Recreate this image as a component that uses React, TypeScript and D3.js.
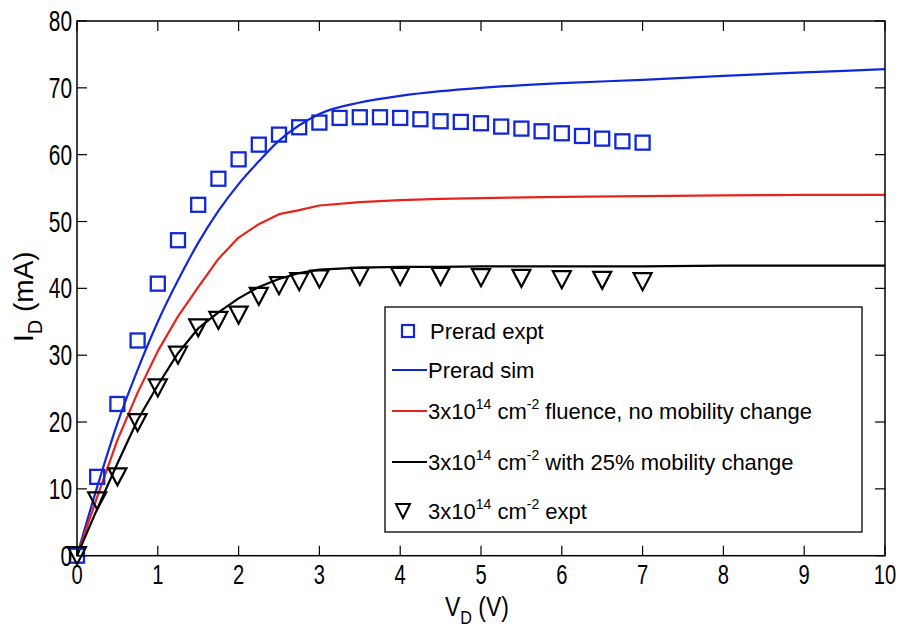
import React from "react";
import * as d3 from "d3";

const xTicks = [0, 1, 2, 3, 4, 5, 6, 7, 8, 9, 10];
const yTicks = [0, 10, 20, 30, 40, 50, 60, 70, 80];

const preradExptV = [0, 0.25, 0.5, 0.75, 1, 1.25, 1.5, 1.75, 2, 2.25, 2.5, 2.75, 3, 3.25, 3.5, 3.75, 4, 4.25, 4.5, 4.75, 5, 5.25, 5.5, 5.75, 6, 6.25, 6.5, 6.75, 7];
const preradExptI = [0, 11.8, 22.7, 32.2, 40.7, 47.2, 52.5, 56.4, 59.3, 61.5, 63.0, 64.1, 64.8, 65.5, 65.6, 65.6, 65.5, 65.3, 65.0, 64.9, 64.7, 64.2, 63.9, 63.5, 63.2, 62.8, 62.4, 62.0, 61.8];

const fluenceExptV = [0, 0.25, 0.5, 0.75, 1, 1.25, 1.5, 1.75, 2, 2.25, 2.5, 2.75, 3, 3.5, 4, 4.5, 5, 5.5, 6, 6.5, 7];
const fluenceExptI = [0, 8.2, 11.8, 19.9, 25.1, 30.0, 34.1, 35.2, 36.0, 38.8, 40.4, 41.0, 41.4, 41.8, 41.8, 41.8, 41.6, 41.5, 41.3, 41.2, 41.0];

const simV = [0, 0.25, 0.5, 0.75, 1, 1.25, 1.5, 1.75, 2, 2.25, 2.5, 2.75, 3, 3.5, 4, 4.5, 5, 6, 7, 8, 9, 10];
const preradSimI = [0, 10.3, 19.8, 27.8, 35.0, 41.2, 46.8, 51.6, 55.6, 59.0, 62.1, 64.4, 66.1, 67.8, 68.8, 69.5, 70.0, 70.7, 71.2, 71.8, 72.3, 72.8];
const noMobilityI = [0, 8.8, 17.3, 24.4, 30.6, 35.8, 40.2, 44.4, 47.6, 49.6, 51.1, 51.7, 52.4, 52.9, 53.2, 53.4, 53.5, 53.7, 53.8, 53.9, 54.0, 54.0];
const mobilityI = [0, 7.0, 13.8, 20.3, 25.5, 30.3, 34.0, 36.4, 38.5, 40.2, 41.4, 42.3, 42.8, 43.1, 43.2, 43.2, 43.3, 43.3, 43.3, 43.4, 43.4, 43.4];

const BLUE = "#1028d8";
const RED = "#e8231c";
const BLACK = "#000";

const L = 77, R = 885, T = 21, B = 555.7;

export default function App() {
  const x = d3.scaleLinear().domain([0, 10]).range([L, R]);
  const y = d3.scaleLinear().domain([0, 80]).range([B, T]);
  const smooth = d3.line<[number, number]>().x(d => x(d[0])).y(d => y(d[1])).curve(d3.curveMonotoneX);
  const straight = d3.line<[number, number]>().x(d => x(d[0])).y(d => y(d[1]));
  const pts = (vs: number[], is: number[]) => vs.map((v, i) => [v, is[i]] as [number, number]);

  const sq = 14;
  const triPath = (cx: number, cy: number) => {
    const w = 9, h = 8.5;
    return `M${cx - w},${cy - h}L${cx + w},${cy - h}L${cx},${cy + h}Z`;
  };

  const font = "'Liberation Sans', Arial, Helvetica, sans-serif";
  const legX = 385, legY = 307, legW = 477, legH = 225;
  const base = [339, 378, 419, 470, 519];
  const mid = base.map(b => b - 8);
  const textX = 428;

  const supRow = (tail: string) => [
    <tspan key="a">3x10</tspan>,
    <tspan key="b" fontSize={14} dy={-10}>14</tspan>,
    <tspan key="c" dy={10}> cm</tspan>,
    <tspan key="d" fontSize={14} dy={-10}>-2</tspan>,
    <tspan key="e" dy={10}>{tail}</tspan>,
  ];

  return (
    <svg width={899} height={634} style={{ position: "absolute", left: 0, top: 0, background: "#fff" }} fontFamily={font}>
      <rect x={0} y={0} width={899} height={634} fill="#fff" />
      {/* series lines */}
      <path d={smooth(pts(simV, preradSimI)) || ""} fill="none" stroke={BLUE} strokeWidth={2.2} />
      <path d={straight(pts(simV, noMobilityI)) || ""} fill="none" stroke={RED} strokeWidth={2.2} strokeLinejoin="round" />
      <path d={straight(pts(simV, mobilityI)) || ""} fill="none" stroke={BLACK} strokeWidth={2.2} strokeLinejoin="round" />
      {/* markers */}
      {preradExptV.map((v, i) => (
        <rect key={"s" + i} x={x(v) - sq / 2} y={y(preradExptI[i]) - sq / 2} width={sq} height={sq} fill="none" stroke={BLUE} strokeWidth={2.3} />
      ))}
      {fluenceExptV.map((v, i) => (
        <path key={"t" + i} d={triPath(x(v), y(fluenceExptI[i]))} fill="none" stroke={BLACK} strokeWidth={2.2} />
      ))}
      {/* axes box */}
      <rect x={L} y={T} width={R - L} height={B - T} fill="none" stroke="#000" strokeWidth={1.5} />
      {xTicks.map(t => (
        <g key={"xt" + t}>
          <line x1={x(t)} x2={x(t)} y1={B} y2={B - 10} stroke="#000" strokeWidth={1.2} />
          <line x1={x(t)} x2={x(t)} y1={T} y2={T + 10} stroke="#000" strokeWidth={1.2} />
          <text transform={`translate(${x(t)},${B + 28}) scale(0.72,1)`} textAnchor="middle" fontSize={28} fill="#000">{t}</text>
        </g>
      ))}
      {yTicks.map(t => (
        <g key={"yt" + t}>
          <line x1={L} x2={L + 10} y1={y(t)} y2={y(t)} stroke="#000" strokeWidth={1.2} />
          <line x1={R} x2={R - 10} y1={y(t)} y2={y(t)} stroke="#000" strokeWidth={1.2} />
          <text transform={`translate(${L - 5},${y(t) + 10}) scale(0.72,1)`} textAnchor="end" fontSize={29} fill="#000">{t}</text>
        </g>
      ))}
      {/* axis titles */}
      <text transform={`translate(445,616) scale(0.85,1)`} fontSize={27} fill="#000">
        <tspan>V</tspan>
        <tspan fontSize={19} dy={8}>D</tspan>
        <tspan dy={-8}> (V)</tspan>
      </text>
      <text transform={`translate(33,342) rotate(-90)`} fontSize={28} fill="#000">
        <tspan>I</tspan>
        <tspan fontSize={20} dy={9}>D</tspan>
        <tspan dy={-9}> (mA)</tspan>
      </text>
      {/* legend */}
      <rect x={legX} y={legY} width={legW} height={legH} fill="#fff" stroke="#000" strokeWidth={1.3} />
      <rect x={408 - 6} y={mid[0] - 6} width={12} height={12} fill="none" stroke={BLUE} strokeWidth={2.2} />
      <text x={430} y={base[0]} fontSize={22}>Prerad expt</text>
      <line x1={392} x2={427} y1={mid[1]} y2={mid[1]} stroke={BLUE} strokeWidth={2.2} />
      <text x={textX} y={base[1]} fontSize={22}>Prerad sim</text>
      <line x1={392} x2={427} y1={mid[2]} y2={mid[2]} stroke={RED} strokeWidth={2.2} />
      <text x={textX} y={base[2]} fontSize={22}>{supRow(" fluence, no mobility change")}</text>
      <line x1={392} x2={427} y1={mid[3]} y2={mid[3]} stroke={BLACK} strokeWidth={2.2} />
      <text x={textX} y={base[3]} fontSize={22}>{supRow(" with 25% mobility change")}</text>
      <path d={`M396,${mid[4] - 7}L410,${mid[4] - 7}L403,${mid[4] + 7}Z`} fill="none" stroke={BLACK} strokeWidth={2} />
      <text x={textX} y={base[4]} fontSize={22}>{supRow(" expt")}</text>
    </svg>
  );
}
